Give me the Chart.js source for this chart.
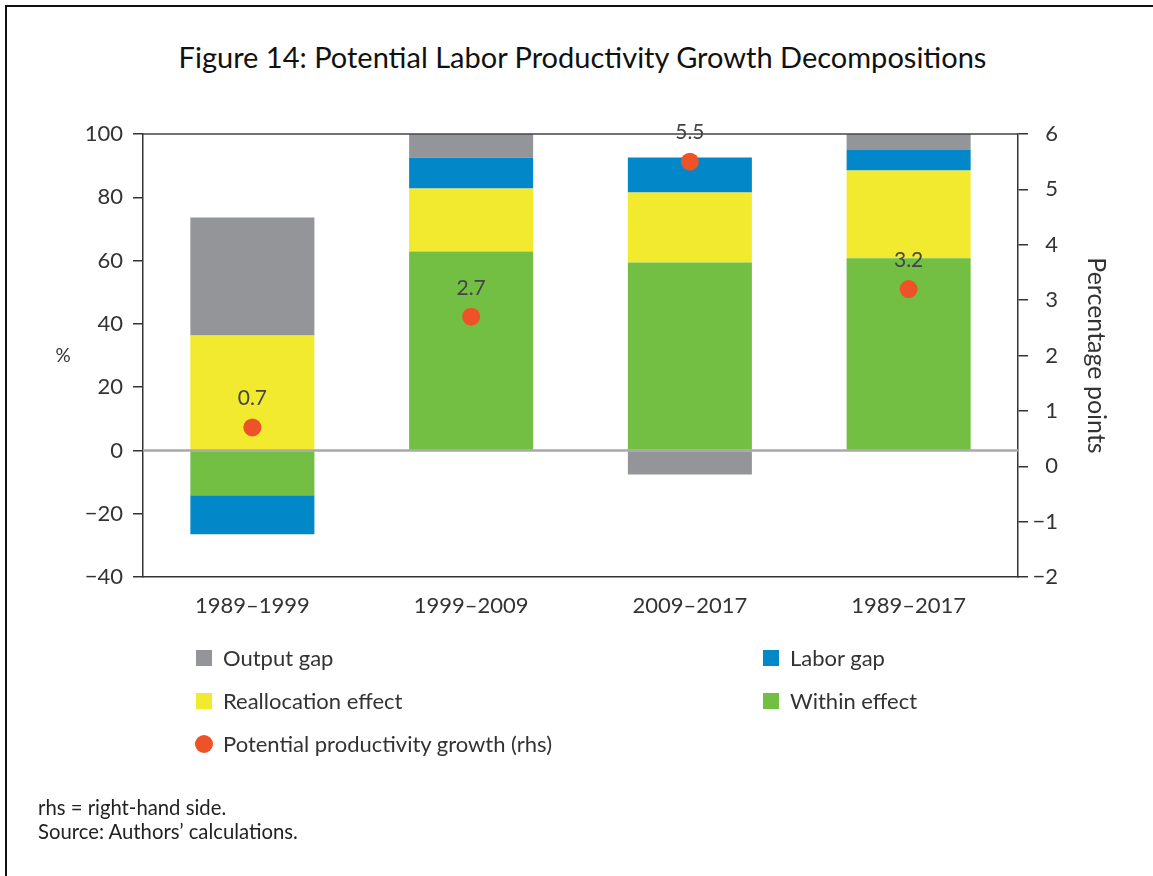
<!DOCTYPE html>
<html>
<head>
<meta charset="utf-8">
<script src="https://cdn.jsdelivr.net/npm/chart.js@4.4.1/dist/chart.umd.min.js"></script>
<style>
  body { margin: 0; background: #fff; font-family: Lato, sans-serif; color: #2b2b2b; }
  #page { position: relative; width: 1153px; height: 876px; overflow: hidden; }
  #frame { position: absolute; left: 5px; top: 5px; width: 1200px; height: 900px;
           border-top: 2px solid #111; border-left: 2px solid #111; }
  #title { position: absolute; top: 39px; left: 0; width: 1165px; text-align: center;
           font-size: 29px; color: #111; }
  #chartBox { position: absolute; left: 0; top: 0; width: 1153px; height: 876px; }
  .leg { position: absolute; font-size: 22px; color: #333; line-height: 26px; white-space: nowrap; }
  .sw { position: absolute; left: -27px; top: 5px; width: 16px; height: 16px; }
  .dot { position: absolute; left: -28px; top: 4px; width: 18px; height: 18px; border-radius: 50%; background: #ee5228; }
  #notes { position: absolute; left: 38px; top: 795px; font-size: 20.3px; line-height: 24px; color: #222; }
</style>
</head>
<body>
<div id="page">
  <div id="frame"></div>
  <div id="title">Figure 14: Potential Labor Productivity Growth Decompositions</div>
  <div id="chartBox"><canvas id="chart"></canvas></div>

  <div class="leg" style="left:223px;top:645px"><span class="sw" style="background:#939598"></span>Output gap</div>
  <div class="leg" style="left:790px;top:645px"><span class="sw" style="background:#0288c8"></span>Labor gap</div>
  <div class="leg" style="left:223px;top:688px"><span class="sw" style="background:#f2ea2e"></span>Reallocation effect</div>
  <div class="leg" style="left:790px;top:688px"><span class="sw" style="background:#72bf44"></span>Within effect</div>
  <div class="leg" style="left:223px;top:731px"><span class="dot"></span>Potential productivity growth (rhs)</div>

  <div id="notes">rhs = right-hand side.<br>Source: Authors’ calculations.</div>
</div>

<script>
// DATA
const categories = ["1989–1999", "1999–2009", "2009–2017", "1989–2017"];
const withinEffect       = [-14.2, 62.9, 59.4, 60.7];
const reallocationEffect = [36.3, 19.9, 22.1, 27.8];
const laborGap           = [-12.3, 9.7, 11.1, 6.6];
const outputGap          = [37.3, 7.5, -7.6, 4.9];
const potentialGrowth    = [0.7, 2.7, 5.5, 3.2];   // rhs, percentage points

const FONT = "Lato, sans-serif";
const INK = "#333";

const minus = v => String(v).replace("-", "\u2212");

// extra drawing: top frame line, zero line, dot labels, axis unit labels
const extras = {
  id: "extras",
  afterDatasetsDraw(chart) {
    const { ctx, chartArea: a, scales } = chart;
    ctx.save();
    // top line of plot
    ctx.strokeStyle = "#444";
    ctx.lineWidth = 1.5;
    ctx.beginPath();
    ctx.moveTo(a.left, a.top);
    ctx.lineTo(a.right, a.top);
    ctx.stroke();
    // zero line
    const y0 = scales.y.getPixelForValue(0);
    ctx.strokeStyle = "#a7a9ac";
    ctx.lineWidth = 2.5;
    ctx.beginPath();
    ctx.moveTo(a.left, y0);
    ctx.lineTo(a.right, y0);
    ctx.stroke();
    // value labels above dots
    const meta = chart.getDatasetMeta(0);
    ctx.fillStyle = "#444";
    ctx.font = "21px " + FONT;
    ctx.textAlign = "center";
    ctx.textBaseline = "middle";
    meta.data.forEach((pt, i) => {
      ctx.fillText(potentialGrowth[i].toFixed(1), pt.x, pt.y - 29);
    });
    // left unit
    ctx.font = "19px " + FONT;
    ctx.fillStyle = INK;
    ctx.fillText("%", 63, (a.top + a.bottom) / 2);
    // right axis title, reading downward
    ctx.translate(1096, (a.top + a.bottom) / 2);
    ctx.rotate(Math.PI / 2);
    ctx.font = "25px " + FONT;
    ctx.fillText("Percentage points", 0, 0);
    ctx.restore();
  }
};

const barDefaults = { order: 1, yAxisID: "y", barPercentage: 0.567, categoryPercentage: 1, borderWidth: 0 };

new Chart(document.getElementById("chart"), {
  type: "bar",
  data: {
    labels: categories,
    datasets: [
      {
        type: "line", label: "Potential productivity growth (rhs)", data: potentialGrowth,
        yAxisID: "y1", order: 0, showLine: false,
        pointRadius: 9, pointHoverRadius: 9, pointBackgroundColor: "#ee5228", pointBorderWidth: 0
      },
      { ...barDefaults, label: "Within effect", data: withinEffect, backgroundColor: "#72bf44" },
      { ...barDefaults, label: "Reallocation effect", data: reallocationEffect, backgroundColor: "#f2ea2e" },
      { ...barDefaults, label: "Labor gap", data: laborGap, backgroundColor: "#0288c8" },
      { ...barDefaults, label: "Output gap", data: outputGap, backgroundColor: "#939598" }
    ]
  },
  options: {
    responsive: true,
    maintainAspectRatio: false,
    animation: false,
    layout: { padding: { top: 134, left: 0, right: 95, bottom: 259 } },
    plugins: { legend: { display: false }, tooltip: { enabled: false } },
    scales: {
      x: {
        stacked: true,
        grid: { display: false, drawTicks: false },
        border: { display: true, color: INK, width: 1.5 },
        ticks: { color: INK, font: { family: FONT, size: 22 }, padding: 16 },
        afterFit: s => { s.height = 40; }
      },
      y: {
        stacked: true,
        min: -40, max: 100,
        grid: { drawOnChartArea: false, drawTicks: true, tickLength: 10, color: INK, lineWidth: 1.5 },
        border: { display: true, color: INK, width: 1.5 },
        ticks: { stepSize: 20, color: INK, font: { family: FONT, size: 22 }, padding: 10, callback: minus },
        afterFit: s => { s.width = 143; }
      },
      y1: {
        position: "right",
        min: -2, max: 6,
        grid: { drawOnChartArea: false, drawTicks: true, tickLength: 10, color: INK, lineWidth: 1.5 },
        border: { display: true, color: INK, width: 1.5 },
        ticks: { stepSize: 1, color: INK, font: { family: FONT, size: 22 }, padding: 8,
                 crossAlign: "far", callback: minus },
        afterFit: s => { s.width = 40; }
      }
    }
  },
  plugins: [extras]
});
</script>
</body>
</html>
